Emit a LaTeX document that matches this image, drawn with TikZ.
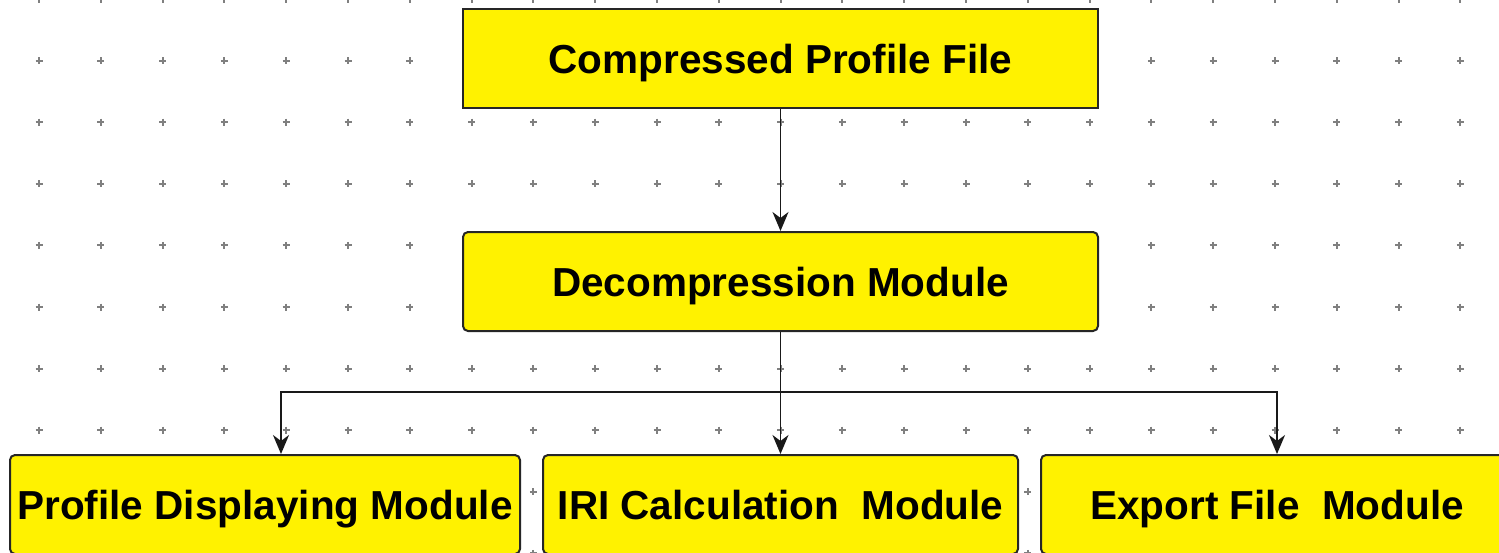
\documentclass[tikz,border=0pt]{standalone}
\usepackage{fontspec}
\setmainfont{Liberation Sans}
\usetikzlibrary{positioning,arrows.meta}

\begin{document}
\begin{tikzpicture}[x=1pt,y=-1pt]
            \tikzstyle{box} = [rectangle, rounded corners=5pt, minimum height=99pt, inner sep=0pt, text height=29pt, text depth=0pt, draw=black!85, line width=2pt, fill=yellow, text centered, font=\fontsize{40.5}{48}\selectfont\bfseries]
            \tikzstyle{arrow} = [line width=1.9pt, draw=black!90, -{Stealth[length=19pt,width=16pt,inset=6pt]}]
            \tikzstyle{dotmark} = [draw=black!50, line width=2pt]

            \clip (0,0) rectangle (1499,552);
            \fill[white] (0,0) rectangle (1499,552);

            % Grid
            \foreach \i in {0,...,23}
                \foreach \j in {0,...,9}
                    \draw[dotmark] (39+61.8*\i-3.5, -1+61.6*\j) -- ++(7,0) (39+61.8*\i, -1+61.6*\j-3.5) -- ++(0,7);

            % Nodes
            \node (compressed) [box, rounded corners=0pt, minimum width=635pt] at (780.5,58.5) {Compressed Profile File};
            \node (decompression) [box, minimum width=635pt, below=122pt of compressed] {Decompression Module};
            \node (iri) [box, minimum width=475pt, below=122pt of decompression] {IRI Calculation\ \ Module};
            \node (display) [box, minimum width=510pt, left=21pt of iri] {Profile Displaying Module};
            \node (export) [box, minimum width=472pt, right=21pt of iri] {Export File\ \ Module};
            \coordinate (fork) at (780.5,392);

            % Arrows
            \draw [arrow] (compressed) -- (decompression);
            \draw [arrow] (decompression) -- (iri);
            \draw [arrow] (fork) -| ([xshift=16pt]display.north);
            \draw [arrow] (fork) -| (export.north);
        \end{tikzpicture}
\end{document}
